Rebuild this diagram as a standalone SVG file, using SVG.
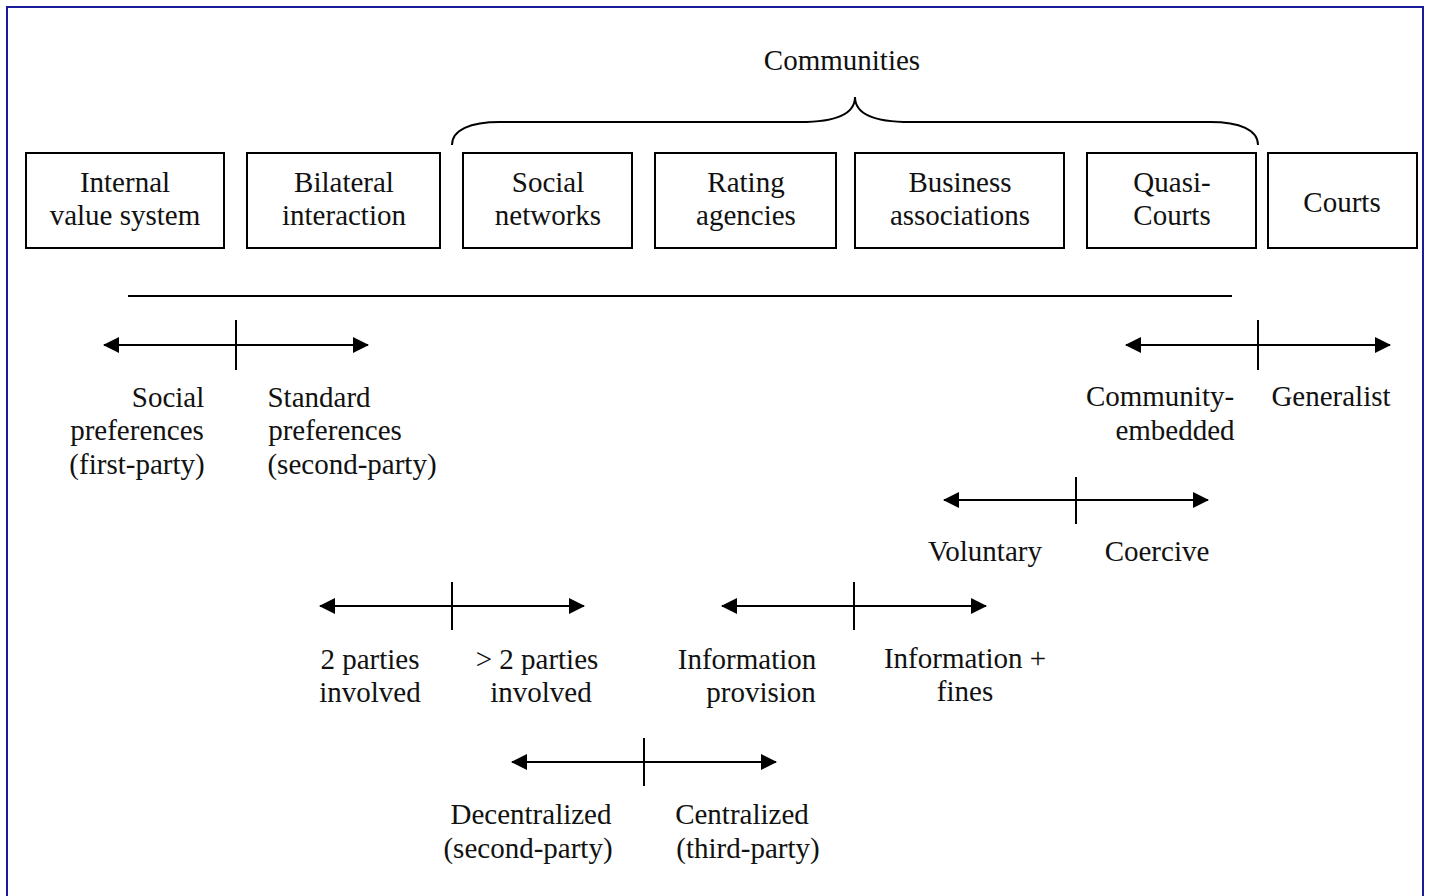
<svg xmlns="http://www.w3.org/2000/svg" width="1429" height="896" viewBox="0 0 1429 896">
<defs>
<marker id="ah" viewBox="0 0 16 16" refX="15" refY="8" markerWidth="16" markerHeight="16" markerUnits="userSpaceOnUse" orient="auto-start-reverse">
<path d="M0,0 L16,8 L0,16 Z" fill="#000"/>
</marker>
</defs>
<style>
text{font-family:"Liberation Serif","Times New Roman",serif;font-size:29px;fill:#111;text-anchor:middle}
.box{fill:#fff;stroke:#000;stroke-width:2}
.ln{stroke:#000;stroke-width:2;fill:none}
.ar{stroke:#000;stroke-width:2;fill:none;marker-start:url(#ah);marker-end:url(#ah)}
</style>
<rect x="0" y="0" width="1429" height="896" fill="#fff"/>
<rect x="7" y="7" width="1416" height="895" fill="none" stroke="#1a1a9a" stroke-width="2"/>
<text x="842" y="70">Communities</text>
<g id="connectors">
<path class="ln" d="M452,145 C452,130 470,122 500,122 L800,122 C835,122 855,115 855,97 C855,115 875,122 910,122 L1210,122 C1240,122 1258,130 1258,145"/>
<line class="ln" x1="128" y1="296" x2="1232" y2="296"/>
<line class="ar" x1="104" y1="345" x2="368" y2="345"/>
<line class="ln" x1="236" y1="320" x2="236" y2="370"/>
<line class="ar" x1="1126" y1="345" x2="1390" y2="345"/>
<line class="ln" x1="1258" y1="320" x2="1258" y2="370"/>
<line class="ar" x1="944" y1="500" x2="1208" y2="500"/>
<line class="ln" x1="1076" y1="477" x2="1076" y2="524"/>
<line class="ar" x1="320" y1="606" x2="584" y2="606"/>
<line class="ln" x1="452" y1="582" x2="452" y2="630"/>
<line class="ar" x1="722" y1="606" x2="986" y2="606"/>
<line class="ln" x1="854" y1="582" x2="854" y2="630"/>
<line class="ar" x1="512" y1="762" x2="776" y2="762"/>
<line class="ln" x1="644" y1="738" x2="644" y2="786"/>
</g>
<g id="internal"><rect class="box" x="26" y="153" width="198" height="95"/><text x="125" y="192">Internal</text><text x="125" y="225">value system</text></g>
<g id="bilateral"><rect class="box" x="247" y="153" width="193" height="95"/><text x="344" y="192">Bilateral</text><text x="344" y="225">interaction</text></g>
<g id="social"><rect class="box" x="463" y="153" width="169" height="95"/><text x="548" y="192">Social</text><text x="548" y="225">networks</text></g>
<g id="rating"><rect class="box" x="655" y="153" width="181" height="95"/><text x="746" y="192">Rating</text><text x="746" y="225">agencies</text></g>
<g id="business"><rect class="box" x="855" y="153" width="209" height="95"/><text x="960" y="192">Business</text><text x="960" y="225">associations</text></g>
<g id="quasi"><rect class="box" x="1087" y="153" width="169" height="95"/><text x="1172" y="192">Quasi-</text><text x="1172" y="225">Courts</text></g>
<g id="courts"><rect class="box" x="1268" y="153" width="149" height="95"/><text x="1342" y="212">Courts</text></g>
<g id="labels">
<text x="168" y="407">Social</text><text x="137" y="440">preferences</text><text x="137" y="474">(first-party)</text>
<text x="319" y="407">Standard</text><text x="335" y="440">preferences</text><text x="352" y="474">(second-party)</text>
<text x="1160" y="406">Community-</text><text x="1175" y="440">embedded</text>
<text x="1331" y="406">Generalist</text>
<text x="985" y="561">Voluntary</text><text x="1157" y="561">Coercive</text>
<text x="370" y="669">2 parties</text><text x="370" y="702">involved</text>
<text x="537" y="669">&gt; 2 parties</text><text x="541" y="702">involved</text>
<text x="747" y="669">Information</text><text x="761" y="702">provision</text>
<text x="965" y="668">Information +</text><text x="965" y="701">fines</text>
<text x="531" y="824">Decentralized</text><text x="528" y="858">(second-party)</text>
<text x="742" y="824">Centralized</text><text x="748" y="858">(third-party)</text>
</g>
</svg>
